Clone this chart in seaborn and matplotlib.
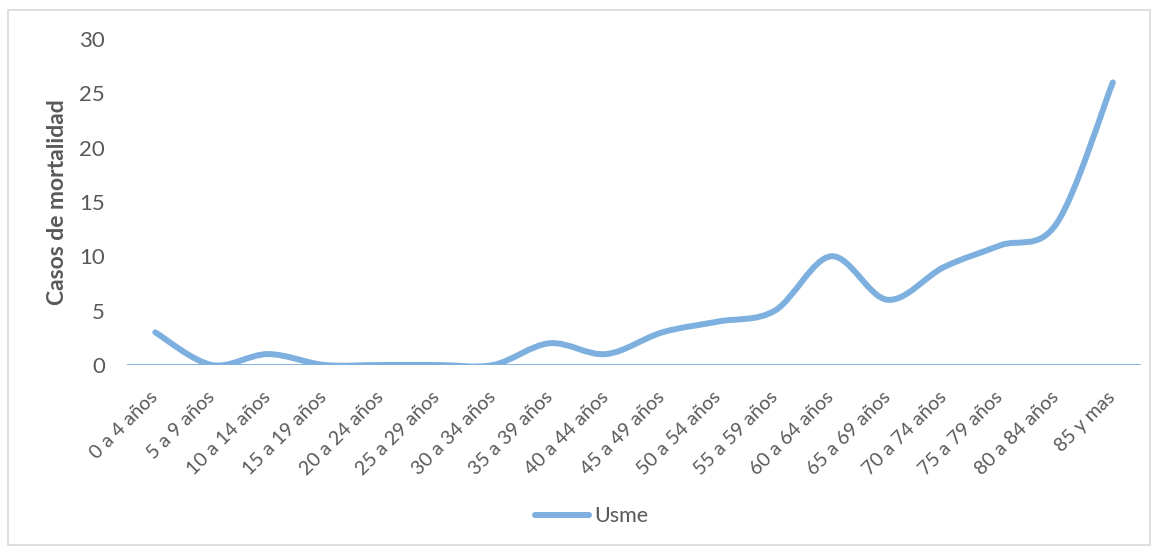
import numpy as np
import pandas as pd
import matplotlib
matplotlib.use("Agg")
import matplotlib.pyplot as plt
import seaborn as sns
from matplotlib.path import Path
from matplotlib.patches import PathPatch, Rectangle

# data
grupos = ["0 a 4 años", "5 a 9 años", "10 a 14 años", "15 a 19 años",
          "20 a 24 años", "25 a 29 años", "30 a 34 años", "35 a 39 años",
          "40 a 44 años", "45 a 49 años", "50 a 54 años", "55 a 59 años",
          "60 a 64 años", "65 a 69 años", "70 a 74 años", "75 a 79 años",
          "80 a 84 años", "85 y mas"]
casos = [3, 0, 1, 0, 0, 0, 0, 2, 1, 3, 4, 5, 10, 6, 9, 11, 13, 26]
y_ticks = [0, 5, 10, 15, 20, 25, 30]

df = pd.DataFrame({"grupo": grupos, "casos": casos})
df["pos"] = range(len(df))

sns.set_theme(style="white")
plt.rcParams["font.family"] = ["Lato", "DejaVu Sans"]
color = "#7DAFDF"
txt = "#595959"

fig = plt.figure(figsize=(11.56, 5.48), dpi=100)
ax = fig.add_axes([0.110, 0.334, 0.877, 0.595])

# seaborn line (used for legend handle, then replaced by smooth curve)
sns.lineplot(data=df, x="pos", y="casos", ax=ax, color=color, lw=4.3,
             label="Usme", solid_capstyle="round")
leg = ax.legend(loc="center", bbox_to_anchor=(0.512, 0.058),
                bbox_transform=fig.transFigure, frameon=False,
                fontsize=15.5, handlelength=2.5, handletextpad=0.25,
                labelcolor=txt)
ax.lines[0].set_visible(False)

# smooth curve like Excel (Bezier through the points)
xs = df["pos"].to_numpy(float)
ys = df["casos"].to_numpy(float)
n = len(xs)
verts = [(xs[0], ys[0])]
codes = [Path.MOVETO]
for i in range(n - 1):
    p0 = max(i - 1, 0)
    p3 = min(i + 2, n - 1)
    c1 = (xs[i] + (xs[i + 1] - xs[p0]) / 6, ys[i] + (ys[i + 1] - ys[p0]) / 6)
    c2 = (xs[i + 1] - (xs[p3] - xs[i]) / 6, ys[i + 1] - (ys[p3] - ys[i]) / 6)
    verts += [c1, c2, (xs[i + 1], ys[i + 1])]
    codes += [Path.CURVE4] * 3
ax.add_patch(PathPatch(Path(verts, codes), fill=False, edgecolor=color,
                       lw=4.3, capstyle="round", joinstyle="round", zorder=3))

ax.axhline(0, color=color, lw=1.3, zorder=2)

ax.set_xlim(-0.5, len(grupos) - 0.5)
ax.set_ylim(0, 30)
ax.set_yticks(y_ticks)
ax.set_xticks(df["pos"])
ax.set_xticklabels(grupos, rotation=45, ha="right", va="center",
                   rotation_mode="anchor", fontsize=14, color=txt)
ax.tick_params(axis="y", labelsize=16, labelcolor=txt, pad=16, length=0)
ax.tick_params(axis="x", length=0, pad=21)
ax.set_xlabel("")
ax.set_ylabel("Casos de mortalidad", fontsize=16.5, fontweight="bold",
              color=txt, labelpad=8)
for s in ax.spines.values():
    s.set_visible(False)
ax.set_clip_on(False)

fig.patches.append(Rectangle((8 / 1156, 3 / 548), 1142 / 1156, 535 / 548,
                             transform=fig.transFigure, fill=False,
                             edgecolor="#D9D9D9", lw=1.2))

fig.savefig("out.png", dpi=100)
